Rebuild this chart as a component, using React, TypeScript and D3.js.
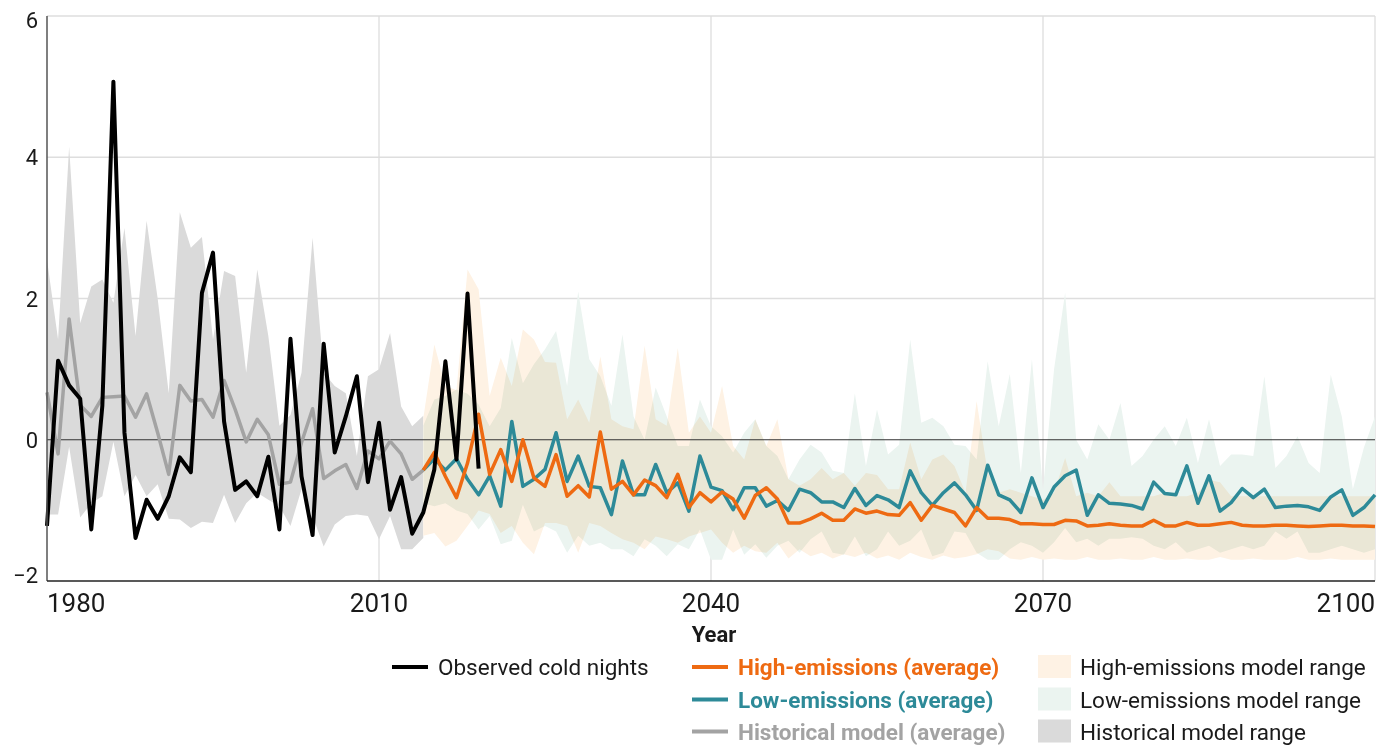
import React, { useEffect } from 'react';
import * as d3 from 'd3';

// observed cold nights anomaly, 1980-2019
const OBS_START = 1980;
const observed = [-1.22, 1.12, 0.77, 0.58, -1.27, 0.48, 5.07, 0.1, -1.39, -0.85,
  -1.12, -0.8, -0.25, -0.46, 2.08, 2.65, 0.26, -0.71, -0.59, -0.8,
  -0.24, -1.27, 1.43, -0.52, -1.35, 1.36, -0.18, 0.33, 0.9, -0.6,
  0.24, -0.99, -0.53, -1.33, -1.03, -0.42, 1.11, -0.28, 2.07, -0.41];

// historical model, 1980-2014
const HIST_START = 1980;
const histAvg = [0.67, -0.2, 1.71, 0.49, 0.33, 0.6, 0.61, 0.62, 0.32, 0.65,
  0.1, -0.49, 0.77, 0.55, 0.57, 0.32, 0.84, 0.43, -0.03, 0.29,
  0.07, -0.63, -0.6, -0.04, 0.44, -0.55, -0.44, -0.35, -0.69, -0.16,
  -0.27, -0.02, -0.2, -0.56, -0.43];
const histHigh = [2.55, 1.42, 4.15, 1.65, 2.17, 2.27, 1.94, 3.0, 1.47, 3.1,
  2.0, 0.66, 3.22, 2.72, 2.87, 1.42, 2.39, 2.32, 0.95, 2.41,
  1.47, 0.2, 0.35, 0.95, 2.86, 0.95, 0.76, 0.66, -0.23, 0.9,
  1.0, 1.51, 0.47, 0.19, 0.34];
const histLow = [-1.06, -1.06, -0.1, -1.1, -0.9, -0.8, -0.03, -0.8, -0.5, -0.8,
  -0.63, -1.12, -1.13, -1.25, -1.16, -1.18, -0.78, -1.18, -0.9, -0.75,
  -0.85, -0.94, -1.22, -0.7, -1.08, -1.51, -1.2, -1.08, -1.06, -1.08,
  -1.41, -1.08, -1.55, -1.55, -1.39];

// projections, 2014-2100
const PROJ_START = 2014;
const highAvg = [-0.43, -0.18, -0.52, -0.82, -0.33, 0.36, -0.49, -0.14, -0.59, 0.0,
  -0.54, -0.66, -0.21, -0.8, -0.65, -0.81, 0.11, -0.7, -0.59, -0.78,
  -0.57, -0.65, -0.82, -0.49, -0.96, -0.75, -0.88, -0.74, -0.84, -1.11,
  -0.79, -0.68, -0.84, -1.18, -1.18, -1.12, -1.04, -1.14, -1.14, -0.98,
  -1.04, -1.01, -1.06, -1.07, -0.89, -1.14, -0.93, -0.98, -1.03, -1.22,
  -0.96, -1.11, -1.11, -1.13, -1.19, -1.19, -1.2, -1.2, -1.14, -1.15,
  -1.22, -1.21, -1.19, -1.21, -1.22, -1.22, -1.14, -1.22, -1.22, -1.17,
  -1.21, -1.21, -1.19, -1.17, -1.21, -1.22, -1.22, -1.21, -1.21, -1.22,
  -1.23, -1.22, -1.21, -1.21, -1.22, -1.22, -1.23];
const lowAvg = [-0.43, -0.27, -0.43, -0.27, -0.56, -0.78, -0.51, -0.94, 0.26, -0.66,
  -0.56, -0.42, 0.1, -0.59, -0.23, -0.66, -0.68, -1.06, -0.3, -0.78,
  -0.78, -0.35, -0.75, -0.61, -1.01, -0.23, -0.67, -0.72, -0.99, -0.68,
  -0.68, -0.94, -0.86, -1.0, -0.7, -0.75, -0.88, -0.88, -0.96, -0.69,
  -0.93, -0.79, -0.85, -0.96, -0.44, -0.75, -0.93, -0.75, -0.61, -0.78,
  -1.0, -0.36, -0.78, -0.85, -1.03, -0.54, -0.96, -0.67, -0.51, -0.43,
  -1.07, -0.78, -0.9, -0.91, -0.93, -0.98, -0.6, -0.76, -0.78, -0.37,
  -0.9, -0.51, -1.01, -0.89, -0.69, -0.82, -0.7, -0.96, -0.94, -0.93,
  -0.95, -1.0, -0.81, -0.71, -1.07, -0.96, -0.78];
const highTop = [0.3, 1.35, 0.76, 0.7, 2.41, 2.13, 0.62, 1.16, 0.76, 1.56,
  1.42, 1.1, 1.09, 0.29, 0.57, 0.24, 1.18, 0.29, 0.19, 0.15,
  1.33, 0.29, 0.2, 1.3, 0.1, 0.33, 0.1, 0.76, -0.09, -0.28,
  0.29, -0.09, 0.29, -0.56, -0.65, -0.56, -0.4, -0.56, -0.47, -0.65,
  -0.47, -0.5, -0.7, -0.7, -0.04, -0.56, -0.28, -0.21, -0.37, -0.75,
  0.55, -0.47, -0.75, -0.7, -0.75, -0.8, -0.85, -0.75, -0.26, -0.8,
  -0.75, -0.8, -0.6, -0.8, -0.8, -0.8, -0.8, -0.75, -0.8, -0.8,
  -0.75, -0.57, -0.6, -0.8, -0.8, -0.8, -0.8, -0.8, -0.8, -0.8,
  -0.8, -0.8, -0.8, -0.8, -0.8, -0.8, -0.8];
const highBottom = [-1.36, -1.32, -1.51, -1.43, -1.22, -1.0, -1.05, -1.32, -1.22, -1.46,
  -1.62, -1.18, -1.18, -1.22, -1.6, -1.18, -1.22, -1.32, -1.41, -1.46,
  -1.55, -1.37, -1.41, -1.46, -1.37, -1.32, -1.27, -1.46, -1.6, -1.5,
  -1.58, -1.6, -1.46, -1.68, -1.55, -1.65, -1.6, -1.68, -1.62, -1.66,
  -1.6, -1.68, -1.64, -1.7, -1.6, -1.66, -1.7, -1.64, -1.68, -1.66,
  -1.62, -1.55, -1.58, -1.68, -1.7, -1.66, -1.7, -1.68, -1.7, -1.7,
  -1.66, -1.7, -1.7, -1.68, -1.7, -1.7, -1.66, -1.7, -1.7, -1.68,
  -1.7, -1.7, -1.66, -1.7, -1.7, -1.68, -1.7, -1.7, -1.7, -1.66,
  -1.7, -1.7, -1.68, -1.7, -1.7, -1.7, -1.7];
const lowTop = [0.2, 0.57, 0.62, 0.71, 0.65, 0.5, 0.19, 0.45, 1.44, 0.8,
  1.07, 1.28, 1.54, 0.76, 2.1, 1.14, 0.9, 0.48, 1.49, 0.33,
  0.0, 0.74, 0.33, -0.09, -0.09, 0.57, 0.19, 0.05, -0.18, 0.1,
  0.29, -0.09, -0.23, -0.56, -0.28, -0.07, -0.18, -0.44, -0.47, 0.66,
  -0.37, 0.43, -0.21, -0.07, 1.42, 0.24, 0.31, 0.19, -0.07, -0.09,
  -0.28, 1.11, 0.19, 0.93, -0.47, 1.14, -0.7, 1.0, 2.08, 0.0,
  -0.28, 0.22, 0.0, 0.52, -0.37, -0.23, 0.0, 0.19, -0.09, 0.31,
  -0.33, 0.29, -0.37, -0.21, -0.21, -0.23, 0.9, -0.4, -0.23, 0.05,
  -0.33, -0.47, 0.92, 0.33, -0.7, -0.11, 0.33];
const lowBottom = [-0.9, -0.94, -0.9, -1.0, -1.05, -1.27, -1.08, -1.48, -1.43, -0.92,
  -1.3, -1.22, -1.3, -1.6, -1.36, -1.5, -1.46, -1.55, -1.55, -1.65,
  -1.41, -1.5, -1.65, -1.48, -1.55, -1.27, -1.7, -1.7, -1.27, -1.63,
  -1.48, -1.67, -1.5, -1.43, -1.6, -1.41, -1.3, -1.6, -1.63, -1.37,
  -1.65, -1.55, -1.3, -1.5, -1.43, -1.27, -1.65, -1.6, -1.3, -1.32,
  -1.6, -1.7, -1.7, -1.55, -1.45, -1.5, -1.6, -1.45, -1.25, -1.45,
  -1.4, -1.5, -1.4, -1.4, -1.38, -1.4, -1.5, -1.55, -1.45, -1.6,
  -1.55, -1.5, -1.6, -1.55, -1.5, -1.55, -1.5, -1.3, -1.4, -1.3,
  -1.6, -1.6, -1.55, -1.5, -1.55, -1.6, -1.55];

const yTicks = [-2, 0, 2, 4, 6];
const xTicks = [1980, 2010, 2040, 2070, 2100];

const C = {
  orange: '#ee6a12',
  teal: '#2d8a98',
  grey: '#a3a3a3',
  greyBand: '#dadada',
  peach: '#fef2e4',
  mint: '#ebf4f0',
  grid: '#dedede',
  text: '#1a1a1a',
};

const W = 1392;
const H = 746;
const FONT = 'Roboto, "Liberation Sans", sans-serif';

type Pt = { year: number; v: number; lo?: number };

const series = (start: number, vals: number[]): Pt[] => vals.map((v, i) => ({ year: start + i, v }));
const band = (start: number, hi: number[], lo: number[]): Pt[] =>
  hi.map((v, i) => ({ year: start + i, v, lo: lo[i] }));

const App = () => {
  useEffect(() => {
    document.body.style.margin = '0';
  }, []);

  const x = d3.scaleLinear().domain([1980, 2100]).range([47, 1375]);
  const y = d3.scaleLinear().domain([-2, 6]).range([581, 16]);

  const line = d3.line<Pt>().x(d => x(d.year)).y(d => y(d.v));
  const area = d3.area<Pt>().x(d => x(d.year)).y0(d => y(d.lo as number)).y1(d => y(d.v));

  // legend rows
  const rowY = [667, 699.5, 731.5];
  const legendSize = 22.5;
  const avgItems = [
    { label: 'High-emissions (average)', color: C.orange },
    { label: 'Low-emissions (average)', color: C.teal },
    { label: 'Historical model (average)', color: C.grey },
  ];
  const rangeItems = [
    { label: 'High-emissions model range', color: C.peach },
    { label: 'Low-emissions model range', color: C.mint },
    { label: 'Historical model range', color: C.greyBand },
  ];

  return (
    <svg width={W} height={H} style={{ display: 'block', fontFamily: FONT }}>
      <rect width={W} height={H} fill="#fff" />
      {/* grid */}
      {yTicks.filter(t => t > 0).map(t => (
        <line key={'gy' + t} x1={x(1980)} x2={x(2100)} y1={y(t)} y2={y(t)} stroke={C.grid} strokeWidth={1.3} />
      ))}
      {xTicks.filter(t => t > 1980).map(t => (
        <line key={'gx' + t} x1={x(t)} x2={x(t)} y1={y(6)} y2={y(-2)} stroke={C.grid} strokeWidth={1.3} />
      ))}

      {/* model ranges */}
      <path d={area(band(HIST_START, histHigh, histLow)) as string} fill={C.greyBand} />
      <g style={{ isolation: 'isolate' }}>
        <path d={area(band(PROJ_START, lowTop, lowBottom)) as string} fill={C.mint} style={{ mixBlendMode: 'multiply' }} />
        <path d={area(band(PROJ_START, highTop, highBottom)) as string} fill={C.peach} style={{ mixBlendMode: 'multiply' }} />
      </g>

      {/* zero line */}
      <line x1={x(1980)} x2={x(2100)} y1={y(0)} y2={y(0)} stroke="#333" strokeWidth={1.2} />

      {/* averages + observed */}
      <path d={line(series(HIST_START, histAvg)) as string} fill="none" stroke={C.grey} strokeWidth={3.5} strokeLinejoin="round" />
      <path d={line(series(PROJ_START, lowAvg)) as string} fill="none" stroke={C.teal} strokeWidth={3.5} strokeLinejoin="round" />
      <path d={line(series(PROJ_START, highAvg)) as string} fill="none" stroke={C.orange} strokeWidth={3.5} strokeLinejoin="round" />
      <path d={line(series(OBS_START, observed)) as string} fill="none" stroke="#000" strokeWidth={4} strokeLinejoin="round" />

      {/* axes */}
      <line x1={x(1980)} x2={x(1980)} y1={y(6)} y2={y(-2)} stroke="#555" strokeWidth={1.5} />
      <line x1={x(1980)} x2={x(2100)} y1={y(-2)} y2={y(-2)} stroke="#222" strokeWidth={1.5} />

      {yTicks.map(t => (
        <text key={'ty' + t} x={38} y={y(t) + (t === 6 ? 12 : t === -2 ? 2 : 8)} textAnchor="end" fontSize={22} fill={C.text}>
          {t < 0 ? '\u2212' + Math.abs(t) : t}
        </text>
      ))}
      {xTicks.map((t, i) => (
        <text key={'tx' + t} x={x(t)} y={612} fontSize={26}
          textAnchor={i === 0 ? 'start' : i === xTicks.length - 1 ? 'end' : 'middle'} fill={C.text}>
          {t}
        </text>
      ))}
      <text x={(x(1980) + x(2100)) / 2 + 3} y={642} textAnchor="middle" fontSize={22} fontWeight={700} fill={C.text}>Year</text>

      {/* legend */}
      <line x1={392} x2={428} y1={rowY[0]} y2={rowY[0]} stroke="#000" strokeWidth={4} />
      <text x={438} y={rowY[0] + 8} fontSize={legendSize} fill={C.text}>Observed cold nights</text>
      {avgItems.map((it, i) => (
        <g key={it.label}>
          <line x1={692} x2={728} y1={rowY[i]} y2={rowY[i]} stroke={it.color} strokeWidth={4} />
          <text x={738} y={rowY[i] + 8} fontSize={legendSize} fontWeight={700} fill={it.color}>{it.label}</text>
        </g>
      ))}
      {rangeItems.map((it, i) => (
        <g key={it.label}>
          <rect x={1038} y={rowY[i] - 12} width={33} height={23} fill={it.color} />
          <text x={1080} y={rowY[i] + 8} fontSize={legendSize} fill={C.text}>{it.label}</text>
        </g>
      ))}
    </svg>
  );
};

export default App;
